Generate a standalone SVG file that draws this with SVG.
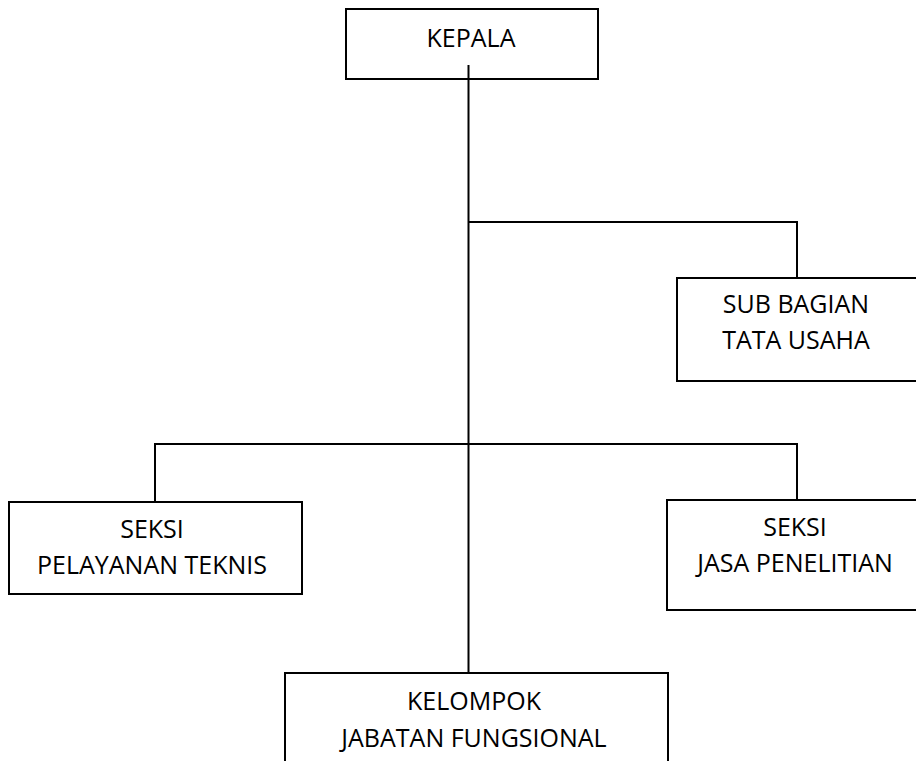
<svg xmlns="http://www.w3.org/2000/svg" width="916" height="761" viewBox="0 0 916 761">
<style>
.box{fill:#fff;stroke:#000;stroke-width:2}
.ln{fill:none;stroke:#000;stroke-width:2}
text{font-family:"Open Sans","Noto Sans",sans-serif;font-size:25px;fill:#000;text-anchor:middle}
</style>
<rect width="916" height="761" fill="#fff"/>
<g id="connectors">
<path class="ln" d="M468.5,65 V673"/>
<path class="ln" d="M468.5,222 H797 V278"/>
<path class="ln" d="M155,502 V444 H797 V500"/>
</g>
<g id="kepala">
<rect class="box" x="346" y="9" width="252" height="70"/>
<path class="ln" d="M468.5,65 V79"/>
<text x="471" y="47">KEPALA</text>
</g>
<g id="sub-bagian">
<rect class="box" x="677" y="278" width="260" height="103"/>
<text x="796" y="313">SUB BAGIAN</text>
<text x="796" y="349">TATA USAHA</text>
</g>
<g id="seksi-pelayanan">
<rect class="box" x="9" y="502" width="293" height="92"/>
<text x="152" y="538">SEKSI</text>
<text x="152" y="574">PELAYANAN TEKNIS</text>
</g>
<g id="seksi-jasa">
<rect class="box" x="667" y="500" width="270" height="110"/>
<text x="795" y="536">SEKSI</text>
<text x="795" y="572">JASA PENELITIAN</text>
</g>
<g id="kelompok">
<rect class="box" x="285" y="673" width="383" height="120"/>
<text x="474" y="710">KELOMPOK</text>
<text x="474" y="747">JABATAN FUNGSIONAL</text>
</g>
</svg>
